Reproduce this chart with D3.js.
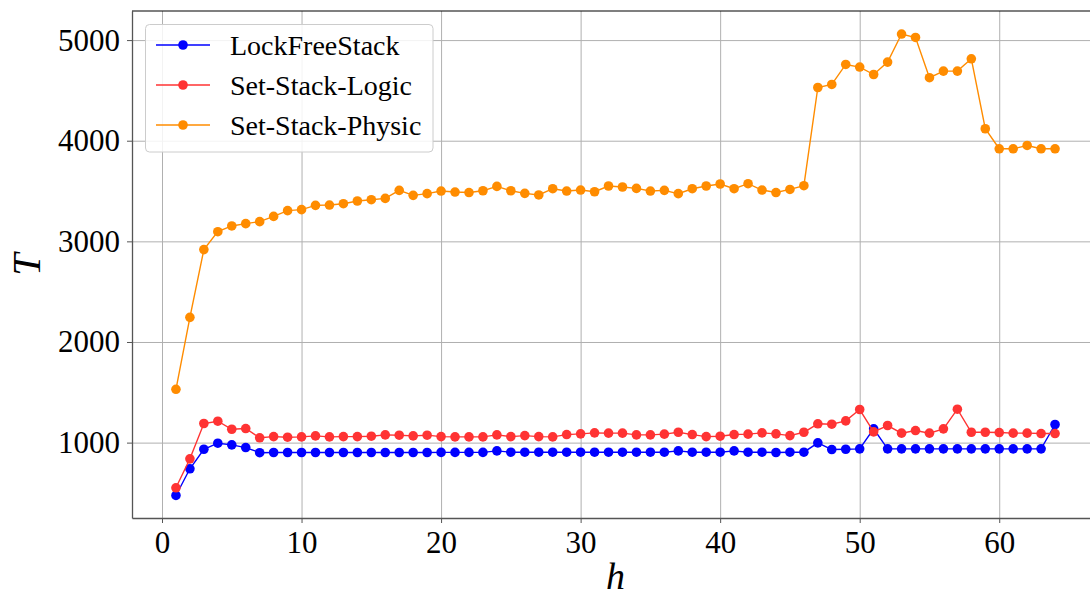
<!DOCTYPE html>
<html>
<head>
<meta charset="utf-8">
<script src="https://cdn.jsdelivr.net/npm/d3@7"></script>
<style>
  body { margin: 0; background: #fff; }
  svg text { font-family: "Liberation Serif", "DejaVu Serif", serif; fill: #000; }
</style>
</head>
<body>
<svg id="chart" width="1090" height="597"></svg>
<script>
// h values (threads)
const hValues = d3.range(1, 65);

const lockFree = [475, 740, 934, 994, 978, 951, 900, 902, 902, 902, 902, 902, 902, 902, 902, 902,
  902, 902, 902, 903, 903, 903, 903, 918, 905, 905, 905, 905, 905, 905, 905, 905,
  905, 905, 905, 905, 918, 905, 905, 905, 918, 905, 905, 902, 905, 905, 998, 931,
  934, 938, 1137, 938, 938, 938, 938, 938, 938, 938, 938, 938, 938, 938, 938, 1180];

const setLogic = [551, 839, 1190, 1213, 1133, 1140, 1048, 1060, 1054, 1057, 1067, 1057, 1060, 1060, 1064, 1077,
  1074, 1067, 1074, 1060, 1057, 1057, 1057, 1077, 1060, 1070, 1060, 1057, 1080, 1087, 1097, 1094,
  1094, 1077, 1077, 1084, 1103, 1080, 1060, 1064, 1080, 1084, 1097, 1087, 1070, 1103, 1187, 1183,
  1216, 1329, 1107, 1170, 1094, 1120, 1094, 1137, 1332, 1103, 1103, 1100, 1094, 1094, 1090, 1090];

const setPhysic = [1530, 2245, 2918, 3096, 3153, 3176, 3196, 3248, 3305, 3315, 3358, 3361, 3374, 3401, 3414, 3427,
  3507, 3457, 3474, 3500, 3490, 3485, 3503, 3546, 3503, 3477, 3461, 3523, 3500, 3510, 3493, 3550,
  3540, 3526, 3500, 3507, 3474, 3523, 3550, 3570, 3523, 3573, 3510, 3485, 3516, 3553, 4529, 4559,
  4758, 4732, 4658, 4781, 5060, 5026, 4626, 4692, 4692, 4814, 4119, 3920, 3920, 3953, 3920, 3920];

const xTicks = [0, 10, 20, 30, 40, 50, 60];
const yTicks = [1000, 2000, 3000, 4000, 5000];

const series = [
  { name: 'LockFreeStack', values: lockFree, color: '#0000ff' },
  { name: 'Set-Stack-Logic', values: setLogic, color: '#ff3333' },
  { name: 'Set-Stack-Physic', values: setPhysic, color: '#ff8c00' }
];

const svg = d3.select('#chart');
const plotLeft = 132, plotRight = 1099, plotTop = 11, plotBottom = 518;

const xScale = d3.scaleLinear().domain([-2.15, 67.15]).range([plotLeft, plotRight]);
const yScale = d3.scaleLinear().domain([251, 5289]).range([plotBottom, plotTop]);

// grid
svg.append('g')
  .attr('transform', `translate(0,${plotBottom})`)
  .call(d3.axisBottom(xScale).tickValues(xTicks).tickSize(-(plotBottom - plotTop)).tickFormat(''))
  .call(g => g.select('.domain').remove())
  .selectAll('line').attr('stroke', '#b0b0b0').attr('stroke-width', 1);

svg.append('g')
  .attr('transform', `translate(${plotLeft},0)`)
  .call(d3.axisLeft(yScale).tickValues(yTicks).tickSize(-(plotRight - plotLeft)).tickFormat(''))
  .call(g => g.select('.domain').remove())
  .selectAll('line').attr('stroke', '#b0b0b0').attr('stroke-width', 1);

// lines + markers
const line = d3.line()
  .x((d, i) => xScale(hValues[i]))
  .y(d => yScale(d));

series.forEach(s => {
  const g = svg.append('g');
  g.append('path')
    .datum(s.values)
    .attr('d', line)
    .attr('fill', 'none')
    .attr('stroke', s.color)
    .attr('stroke-width', 1.4);
  g.selectAll('circle')
    .data(s.values)
    .enter()
    .append('circle')
    .attr('cx', (d, i) => xScale(hValues[i]))
    .attr('cy', d => yScale(d))
    .attr('r', 4.8)
    .attr('fill', s.color);
});

// axes
const xAxis = svg.append('g')
  .attr('transform', `translate(0,${plotBottom})`)
  .call(d3.axisBottom(xScale).tickValues(xTicks).tickFormat(d3.format('d'))
    .tickSizeInner(5).tickSizeOuter(0).tickPadding(8));
xAxis.select('.domain').attr('stroke', '#555').attr('stroke-width', 1.3);
xAxis.selectAll('.tick line').attr('stroke', '#555');
xAxis.selectAll('text').attr('font-size', '31px').attr('dy', '0.71em');

const yAxis = svg.append('g')
  .attr('transform', `translate(${plotLeft},0)`)
  .call(d3.axisLeft(yScale).tickValues(yTicks).tickFormat(d3.format('d'))
    .tickSizeInner(5).tickSizeOuter(0).tickPadding(7));
yAxis.select('.domain').attr('stroke', '#555').attr('stroke-width', 1.3);
yAxis.selectAll('.tick line').attr('stroke', '#555');
yAxis.selectAll('text').attr('font-size', '31px');

svg.append('line')
  .attr('x1', plotLeft).attr('x2', plotRight)
  .attr('y1', plotTop).attr('y2', plotTop)
  .attr('stroke', '#000').attr('stroke-width', 1.2);

// axis labels
svg.append('text')
  .attr('x', (plotLeft + plotRight) / 2)
  .attr('y', 589)
  .attr('text-anchor', 'middle')
  .attr('font-size', '38px')
  .attr('font-style', 'italic')
  .text('h');

svg.append('text')
  .attr('transform', `translate(40,${(plotTop + plotBottom) / 2}) rotate(-90)`)
  .attr('text-anchor', 'middle')
  .attr('font-size', '40px')
  .attr('font-style', 'italic')
  .text('T');

// legend
const legend = svg.append('g');
legend.append('rect')
  .attr('x', 145.5).attr('y', 24.5)
  .attr('width', 287.5).attr('height', 127.5)
  .attr('rx', 4)
  .attr('fill', '#fff').attr('fill-opacity', 0.85)
  .attr('stroke', '#cccccc');

series.forEach((s, i) => {
  const cy = 45 + i * 40;
  legend.append('line')
    .attr('x1', 156).attr('x2', 210)
    .attr('y1', cy).attr('y2', cy)
    .attr('stroke', s.color).attr('stroke-width', 1.4);
  legend.append('circle')
    .attr('cx', 183).attr('cy', cy).attr('r', 4.8)
    .attr('fill', s.color);
  legend.append('text')
    .attr('x', 230).attr('y', cy + 9.5)
    .attr('font-size', '28px')
    .text(s.name);
});
</script>
</body>
</html>
